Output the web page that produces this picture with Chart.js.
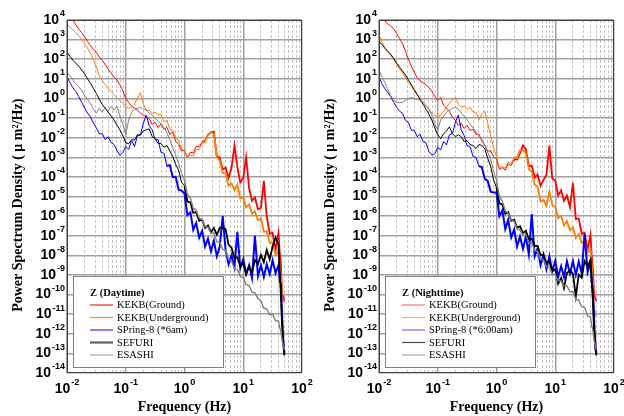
<!DOCTYPE html>
<html>
<head>
<meta charset="utf-8">
<script src="https://cdn.jsdelivr.net/npm/chart.js@4.4.0/dist/chart.umd.min.js"></script>
<style>
html, body { margin: 0; padding: 0; background: #fff; overflow: hidden; }
#wrap { position: relative; width: 624px; height: 416px; }
#dayChart { position: absolute; left: 0; top: 0; z-index: 2; }
#nightChart { position: absolute; left: 312px; top: 0; z-index: 1; }
</style>
</head>
<body>
<div id="wrap">
<canvas id="dayChart" width="330" height="416"></canvas>
<canvas id="nightChart" width="312" height="416"></canvas>
</div>
<script>
// frequency grid (Hz), shared by every curve
var freqHz = [0.01, 0.0112, 0.0126, 0.0141, 0.0158, 0.0178, 0.02, 0.0224, 0.0251, 0.0282,
    0.0316, 0.0355, 0.0398, 0.0447, 0.0501, 0.0562, 0.0631, 0.0708, 0.0794, 0.0891,
    0.1, 0.112, 0.126, 0.141, 0.158, 0.178, 0.2, 0.224, 0.251, 0.282,
    0.316, 0.355, 0.398, 0.447, 0.501, 0.562, 0.631, 0.708, 0.794, 0.891,
    1, 1.12, 1.26, 1.41, 1.58, 1.78, 2, 2.24, 2.51, 2.82,
    3.16, 3.55, 3.98, 4.47, 5.01, 5.62, 6.31, 7.08, 7.94, 8.91,
    10, 11.2, 12.6, 14.1, 15.8, 17.8, 20, 22.4, 25.1, 28.2,
    31.6, 35.5, 39.8, 41.7, 43.7, 45.7, 47.9, 50.1];

// PSD, as log10 of (um^2/Hz)
// Z daytime
var dayGround = [4.4, 4.2, 4.0, 3.75, 3.55, 3.35, 3.15, 2.9, 2.7, 2.5, 2.35, 2.12, 1.95, 1.72, 1.5, 1.3, 1.1, 0.94, 0.7, 0.4,
    0.0, -0.2, -0.4, -0.5, -0.6, -0.75, -0.85, -0.95, -1.02, -1.33, -1.22, -1.48, -1.3, -1.58, -1.47, -1.83, -1.72, -2.18, -2.35, -2.68,
    -2.65, -3.0, -2.74, -2.79, -2.45, -2.46, -2.22, -2.15, -1.85, -1.73, -1.7, -2.95, -3.02, -3.63, -3.52, -4.05, -3.55, -2.4, -3.5, -4.28,
    -4.05, -3.0, -4.58, -5.22, -5.05, -5.65, -5.58, -4.2, -6.02, -6.9, -6.85, -7.72, -6.85, -7.85, -8.4, -10.0, -10.1, -10.3];
var dayUnder = [3.8, 3.65, 3.5, 3.35, 3.2, 3.0, 2.8, 2.55, 2.3, 1.95, 1.6, 1.15, 0.9, 0.7, 0.5, 0.35, 0.2, 0.02, -0.1, -0.25,
    -0.4, -0.5, -0.45, -0.3, 0.0, 0.3, -0.3, -0.6, -0.6, -0.78, -0.7, -0.82, -0.8, -1.2, -1.1, -1.55, -1.62, -2.05, -2.12, -2.58,
    -2.65, -2.95, -2.89, -2.94, -2.6, -2.61, -2.27, -2.2, -1.85, -1.73, -1.8, -3.0, -3.16, -3.8, -3.82, -4.45, -4.33, -4.68, -4.4, -5.09,
    -5.04, -5.55, -5.4, -5.88, -5.75, -6.22, -6.12, -6.8, -6.76, -7.36, -7.35, -7.98, -7.78, -8.5, -9.1, -10.1, -10.3, -10.4];
var daySpring = [1.1, 0.8, 0.55, 0.35, 0.1, -0.2, -0.5, -0.75, -0.95, -1.25, -1.5, -1.8, -1.8, -2.1, -1.95, -2.25, -2.35, -2.65, -2.9, -2.75,
    -2.45, -2.6, -2.15, -2.45, -1.9, -1.85, -1.25, -0.85, -1.4, -1.6, -2.1, -2.1, -2.75, -2.8, -3.45, -3.4, -4.0, -4.0, -4.65, -4.7,
    -4.85, -5.95, -5.8, -6.7, -6.35, -7.1, -6.75, -7.55, -7.15, -7.8, -7.25, -8.05, -7.55, -6.0, -7.75, -8.45, -8.0, -8.6, -6.8, -8.65,
    -8.2, -8.95, -8.5, -9.15, -7.0, -9.05, -8.5, -9.1, -8.45, -8.95, -8.25, -8.9, -8.5, -9.25, -9.5, -11.0, -12.3, -13.0];
var daySefuri = [2.35, 2.15, 1.95, 1.8, 1.65, 1.45, 1.25, 1.0, 0.78, 0.5, 0.25, -0.05, -0.3, -0.5, -0.7, -0.9, -1.1, -1.35, -1.6, -1.9,
    -2.25, -2.32, -2.1, -2.12, -1.85, -1.87, -1.65, -1.6, -1.55, -1.95, -2.05, -2.3, -2.3, -2.48, -2.4, -2.68, -2.95, -3.38, -3.65, -4.28,
    -4.45, -5.25, -5.31, -5.84, -5.8, -6.24, -6.18, -6.6, -6.48, -6.82, -6.6, -6.95, -6.6, -6.58, -6.67, -7.45, -7.61, -8.14, -8.1, -8.56,
    -8.4, -8.95, -8.57, -8.87, -8.25, -8.45, -7.98, -8.35, -7.72, -8.2, -7.55, -7.1, -7.45, -8.75, -10.0, -11.5, -12.5, -13.1];
var dayEsashi = [1.35, 1.15, 0.95, 0.75, 0.6, 0.4, 0.15, -0.05, -0.25, -0.55, -0.75, -0.5, -0.7, -0.45, -0.65, -0.4, -0.6, -0.4, -0.9, -1.3,
    -1.85, -1.1, -0.7, -0.55, -0.5, -0.45, -0.55, -0.6, -0.75, -0.85, -1.0, -1.15, -1.3, -1.5, -1.75, -2.1, -2.5, -2.9, -3.3, -3.8,
    -4.2, -4.9, -5.09, -5.59, -5.7, -6.11, -6.17, -6.55, -6.55, -6.88, -6.85, -7.3, -7.33, -7.7, -7.76, -8.2, -8.29, -8.69, -8.7, -9.07,
    -9.12, -9.5, -9.55, -9.89, -9.9, -10.21, -10.31, -10.7, -10.73, -11.03, -11.0, -11.34, -11.34, -11.7, -11.85, -12.3, -12.6, -12.8];

// Z nighttime
var nightGround = [4.3, 4.1, 3.95, 3.8, 3.7, 3.55, 3.3, 3.05, 2.8, 2.4, 2.0, 1.65, 1.35, 1.05, 0.9, 0.8, 0.7, 0.55, 0.35, 0.1,
    -0.1, 0.05, -0.35, -0.5, -0.65, -0.95, -1.12, -1.38, -1.27, -1.53, -1.37, -1.63, -1.57, -1.83, -1.82, -2.18, -2.37, -2.68, -2.67, -2.98,
    -3.08, -3.62, -3.53, -3.66, -3.33, -3.42, -3.1, -3.12, -2.79, -2.4, -2.58, -3.45, -3.42, -4.03, -3.88, -4.45, -4.15, -3.9, -2.4, -4.08,
    -4.2, -4.95, -4.68, -5.22, -4.95, -5.55, -4.3, -6.15, -6.12, -6.9, -6.85, -7.72, -6.95, -8.0, -8.7, -10.0, -10.2, -10.3];
var nightUnder = [3.2, 2.9, 2.6, 2.4, 2.2, 2.0, 1.75, 1.5, 1.3, 1.05, 0.8, 0.6, 0.4, 0.2, 0.0, -0.2, -0.4, -0.55, -0.75, -0.85,
    -0.95, -0.85, -0.65, -0.45, -0.25, -0.05, 0.05, -0.3, -0.45, -0.4, -0.55, -0.45, -0.7, -0.7, -1.1, -0.8, -0.65, -1.25, -1.9, -2.5,
    -2.98, -3.52, -3.48, -3.56, -3.23, -3.32, -3.0, -3.02, -2.64, -2.65, -2.78, -3.6, -3.76, -4.4, -4.52, -5.25, -5.18, -5.48, -4.75, -5.44,
    -5.54, -6.1, -6.0, -6.48, -6.25, -6.72, -6.57, -7.1, -6.91, -7.36, -7.25, -7.88, -7.68, -8.5, -9.4, -10.7, -11.0, -11.1];
var nightSpring = [1.1, 0.75, 0.5, 0.3, 0.1, -0.2, -0.45, -0.65, -0.75, -1.12, -1.22, -1.62, -1.62, -1.95, -1.82, -2.2, -2.27, -2.7, -2.88, -2.83,
    -2.5, -2.62, -2.2, -2.37, -1.85, -1.8, -1.2, -0.85, -1.6, -1.9, -2.42, -2.45, -2.95, -3.0, -3.45, -3.5, -4.1, -4.2, -4.75, -4.8,
    -4.8, -6.0, -5.71, -6.66, -6.2, -7.09, -6.68, -7.55, -7.05, -7.67, -7.05, -7.95, -5.9, -8.05, -7.64, -8.5, -7.96, -8.71, -8.05, -8.83,
    -8.28, -9.1, -8.55, -9.11, -8.3, -8.94, -8.29, -9.0, -8.32, -8.92, -6.9, -8.86, -8.36, -9.3, -9.8, -11.2, -12.4, -13.0];
var nightSefuri = [2.9, 2.75, 2.55, 2.4, 2.25, 2.05, 1.8, 1.6, 1.4, 1.2, 0.95, 0.7, 0.45, 0.2, -0.05, -0.3, -0.55, -0.8, -1.1, -1.5,
    -1.85, -2.05, -1.8, -1.65, -1.45, -1.8, -1.95, -1.85, -1.95, -2.2, -2.15, -2.35, -2.4, -2.55, -2.35, -2.4, -2.55, -3.05, -3.45, -4.15,
    -4.55, -5.35, -5.41, -5.89, -5.8, -6.24, -6.18, -6.6, -6.52, -6.87, -6.75, -7.2, -7.15, -7.53, -7.52, -8.0, -7.96, -8.39, -8.3, -8.8,
    -8.71, -9.45, -9.15, -9.67, -8.9, -8.78, -8.93, -10.1, -8.99, -9.14, -8.3, -8.57, -8.22, -9.3, -10.3, -11.8, -12.7, -13.1];
var nightEsashi = [1.45, 1.1, 0.8, 0.45, 0.15, -0.1, -0.2, -0.2, -0.2, -0.1, 0.0, 0.05, 0.0, -0.05, -0.1, -0.2, -0.35, -0.55, -0.85, -1.3,
    -1.6, -1.1, -0.9, -0.7, -0.6, -0.5, -0.45, -0.55, -0.75, -0.9, -1.1, -1.3, -1.5, -1.7, -1.9, -2.1, -2.4, -2.75, -3.1, -3.7,
    -4.2, -5.0, -5.24, -5.74, -5.85, -6.21, -6.27, -6.65, -6.7, -6.98, -6.95, -7.35, -7.38, -7.75, -7.81, -8.2, -8.24, -8.59, -8.6, -8.97,
    -8.97, -9.3, -9.3, -9.59, -9.55, -9.86, -9.86, -10.25, -10.28, -10.63, -10.65, -11.09, -11.14, -11.6, -11.82, -12.3, -12.6, -12.8];

var dayLabels = ['KEKB(Ground)', 'KEKB(Underground)', 'SPring-8 (*6am)', 'SEFURI', 'ESASHI'];
var nightLabels = ['KEKB(Ground)', 'KEKB(Underground)', 'SPring-8 (*6:00am)', 'SEFURI', 'ESASHI'];

// axis ticks (exponents of 10)
var xTickExps = [-2, -1, 0, 1, 2];
var yTickExps = [4, 3, 2, 1, 0, -1, -2, -3, -4, -5, -6, -7, -8, -9, -10, -11, -12, -13, -14];

var lineColors = ['#ff0000', '#ff8000', '#0000ff', '#000000', '#808080'];
var drawOrder = [4, 3, 2, 1, 0];
// the noisy high-frequency part of each record is drawn a bit heavier
var bandFromHz = [2, 2, 0.5, 1, 1];
var bandWidth = [1.8, 1.8, 2, 1.8, 1.4];

// dashed minor grid at 2..9 x each decade
var minorX = [];
for (var d = 0; d < xTickExps.length - 1; d++) {
    for (var m = 2; m <= 9; m++) {
        minorX.push(m * Math.pow(10, xTickExps[d]));
    }
}

var SANS = '"Liberation Sans", Arial, sans-serif';
var SERIF = '"Liberation Serif", "Times New Roman", serif';

function drawPower(ctx, exp, x, y, align) {
    ctx.font = 'bold 14px ' + SANS;
    var wb = ctx.measureText('10').width;
    ctx.font = 'bold 9px ' + SANS;
    var ws = ctx.measureText(String(exp)).width;
    var x0 = align === 'right' ? x - wb - ws - 1 : x - (wb + ws + 1) / 2;
    ctx.textAlign = 'left';
    ctx.textBaseline = 'middle';
    ctx.font = 'bold 14px ' + SANS;
    ctx.fillText('10', x0, y);
    ctx.font = 'bold 9px ' + SANS;
    ctx.fillText(String(exp), x0 + wb + 1, y - 6);
}

var panelDecor = {
    id: 'panelDecor',
    afterDatasetsDraw: function (chart, args, opts) {
        var ctx = chart.ctx;
        var a = chart.chartArea;
        ctx.save();
        // legend box
        var bx = a.left + 6, by = a.bottom - 97, bw = 150, bh = 91;
        ctx.fillStyle = '#fff';
        ctx.fillRect(bx, by, bw, bh);
        ctx.strokeStyle = '#808080';
        ctx.lineWidth = 1;
        ctx.strokeRect(bx + 0.5, by + 0.5, bw, bh);
        ctx.fillStyle = '#000';
        ctx.textAlign = 'left';
        ctx.textBaseline = 'middle';
        ctx.font = 'bold 10.5px ' + SERIF;
        ctx.fillText(opts.title, bx + 17, by + 17);
        ctx.font = '10.5px ' + SERIF;
        chart.data.datasets.forEach(function (ds, k) {
            var yy = by + 29 + k * 12.5;
            ctx.strokeStyle = ds.legendColor;
            ctx.lineWidth = ds.legendWidth;
            ctx.beginPath();
            ctx.moveTo(bx + 17, yy);
            ctx.lineTo(bx + 40, yy);
            ctx.stroke();
            ctx.fillStyle = '#000';
            ctx.fillText(ds.label, bx + 44, yy + 0.5);
        });
        // frame
        ctx.strokeStyle = '#404040';
        ctx.lineWidth = 1;
        ctx.strokeRect(a.left + 0.5, a.top + 0.5, a.right - a.left - 1, a.bottom - a.top - 1);
        // tick labels
        ctx.fillStyle = '#000';
        var xs = chart.scales.x, ys = chart.scales.y;
        yTickExps.forEach(function (e) {
            drawPower(ctx, e, a.left - 2, ys.getPixelForValue(Math.pow(10, e)), 'right');
        });
        xTickExps.forEach(function (e) {
            drawPower(ctx, e, xs.getPixelForValue(Math.pow(10, e)), a.bottom + 16, 'center');
        });
        ctx.restore();
    }
};

function buildSets(lists, labels, legendColors, legendWidths) {
    return lists.map(function (list, k) {
        return {
            label: labels[k],
            data: freqHz.map(function (f, i) { return { x: f, y: Math.pow(10, list[i]) }; }),
            borderColor: lineColors[k],
            borderWidth: 1,
            pointRadius: 0,
            showLine: true,
            order: drawOrder[k],
            segment: {
                borderWidth: function (c) { return freqHz[c.p0DataIndex] >= bandFromHz[k] ? bandWidth[k] : 1; }
            },
            legendColor: legendColors[k],
            legendWidth: legendWidths[k]
        };
    });
}

function makePanel(id, rightPad, title, sets) {
    var titleFont = { family: SERIF, size: 14, weight: 'bold' };
    new Chart(document.getElementById(id), {
        type: 'scatter',
        data: { datasets: sets },
        options: {
            responsive: false,
            animation: false,
            devicePixelRatio: 1,
            events: [],
            layout: { padding: { top: 20, right: rightPad, left: 0, bottom: 0 } },
            plugins: {
                legend: { display: false },
                tooltip: { enabled: false },
                panelDecor: { title: title }
            },
            scales: {
                x: {
                    type: 'logarithmic', min: 0.01, max: 100, position: 'bottom',
                    afterBuildTicks: function (s) { s.ticks = xTickExps.map(function (e) { return { value: Math.pow(10, e) }; }); },
                    afterFit: function (s) { s.height = 43; },
                    ticks: { display: false, autoSkip: false },
                    grid: { color: '#a0a0a0', lineWidth: 1.5, drawTicks: false },
                    border: { display: false },
                    title: { display: true, text: 'Frequency (Hz)', color: '#000', font: titleFont, padding: { top: 0, bottom: 0 } }
                },
                xMinor: {
                    type: 'logarithmic', min: 0.01, max: 100, position: 'bottom', axis: 'x',
                    afterBuildTicks: function (s) { s.ticks = minorX.map(function (v) { return { value: v }; }); },
                    afterFit: function (s) { s.height = 0; },
                    ticks: { display: false, autoSkip: false },
                    grid: { color: '#c4c4c4', lineWidth: 1, drawTicks: false, borderDash: [3, 2] },
                    border: { display: false, dash: [3, 2] }
                },
                y: {
                    type: 'logarithmic', min: 1e-14, max: 1e4,
                    afterBuildTicks: function (s) { s.ticks = yTickExps.map(function (e) { return { value: Math.pow(10, e) }; }); },
                    afterFit: function (s) { s.width = 67; },
                    ticks: { display: false, autoSkip: false },
                    grid: { color: '#a0a0a0', lineWidth: 1.5, drawTicks: false },
                    border: { display: false },
                    title: {
                        display: true, color: '#000', font: titleFont, padding: { top: 10, bottom: 0 },
                        text: 'Power Spectrum Density ( \u03bc m\u00b2/Hz)\u00a0\u00a0\u00a0\u00a0\u00a0'
                    }
                }
            }
        },
        plugins: [panelDecor]
    });
}

makePanel('dayChart', 28, 'Z (Daytime)',
    buildSets([dayGround, dayUnder, daySpring, daySefuri, dayEsashi], dayLabels,
        ['#ff2020', '#ff9020', '#3030ff', '#606060', '#a8a8a8'], [1.2, 1.2, 1.2, 2.2, 1.2]));
makePanel('nightChart', 10, 'Z (Nighttime)',
    buildSets([nightGround, nightUnder, nightSpring, nightSefuri, nightEsashi], nightLabels,
        ['#ff7070', '#ffb060', '#7070ff', '#505050', '#a8a8a8'], [1.2, 1.2, 1.2, 1.2, 1.2]));
</script>
</body>
</html>
